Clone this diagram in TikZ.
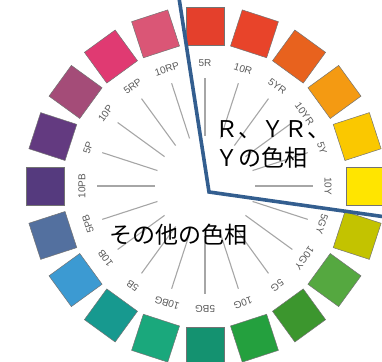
\documentclass[tikz,border=0pt]{standalone}
\usepackage{fontspec}
\setsansfont{Liberation Sans}
\newfontfamily\jpfont{Noto Sans CJK JP}
\definecolor{c5R}{HTML}{E4402C}
\definecolor{c10R}{HTML}{E8442A}
\definecolor{c5YR}{HTML}{E8621E}
\definecolor{c10YR}{HTML}{F49A12}
\definecolor{c5Y}{HTML}{FAC800}
\definecolor{c10Y}{HTML}{FFE500}
\definecolor{c5GY}{HTML}{C3C300}
\definecolor{c10GY}{HTML}{55A840}
\definecolor{c5G}{HTML}{3C962E}
\definecolor{c10G}{HTML}{24A03E}
\definecolor{c5BG}{HTML}{149270}
\definecolor{c10BG}{HTML}{1AA87C}
\definecolor{c5B}{HTML}{17998F}
\definecolor{c10B}{HTML}{3C9AD2}
\definecolor{c5PB}{HTML}{53709F}
\definecolor{c10PB}{HTML}{553A7E}
\definecolor{c5P}{HTML}{633A80}
\definecolor{c10P}{HTML}{A44C78}
\definecolor{c5RP}{HTML}{E03A72}
\definecolor{c10RP}{HTML}{DA5676}
\definecolor{wedgeblue}{HTML}{335E8F}
\begin{document}
\begin{tikzpicture}[x=1pt,y=1pt]
\tikzstyle{every node}+=[inner sep=0pt]
\tikzstyle{huebox}=[draw=black!55, line width=0.5pt, minimum size=38pt]
\tikzstyle{huelabel}=[font=\sffamily\fontsize{10}{10}\selectfont, text=black!65]
\tikzstyle{spoke}=[draw=black!35, line width=1.1pt]
\tikzstyle{jptext}=[font=\jpfont\fontsize{23}{29}\selectfont, anchor=base west]
\useasboundingbox (0,0) rectangle (382,-361);
\begin{scope}[shift={(205,-186)}]
\node [huebox, fill=c5R, rotate=0] (h5R) at (90:160) {}; \draw [spoke] (90:50) -- (90:108); \node [huelabel, rotate=0] (l5R) at (90:123) {5R};
\node [huebox, fill=c10R, rotate=-18] (h10R) at (72:160) {}; \draw [spoke] (72:50) -- (72:108); \node [huelabel, rotate=-18] (l10R) at (72:123) {10R};
\node [huebox, fill=c5YR, rotate=-36] (h5YR) at (54:160) {}; \draw [spoke] (54:50) -- (54:108); \node [huelabel, rotate=-36] (l5YR) at (54:123) {5YR};
\node [huebox, fill=c10YR, rotate=-54] (h10YR) at (36:160) {}; \draw [spoke] (36:50) -- (36:108); \node [huelabel, rotate=-54] (l10YR) at (36:123) {10YR};
\node [huebox, fill=c5Y, rotate=-72] (h5Y) at (18:160) {}; \draw [spoke] (18:50) -- (18:108); \node [huelabel, rotate=-72] (l5Y) at (18:123) {5Y};
\node [huebox, fill=c10Y, rotate=-90] (h10Y) at (0:160) {}; \draw [spoke] (0:50) -- (0:108); \node [huelabel, rotate=-90] (l10Y) at (0:123) {10Y};
\node [huebox, fill=c5GY, rotate=-108] (h5GY) at (-18:160) {}; \draw [spoke] (-18:50) -- (-18:108); \node [huelabel, rotate=-108] (l5GY) at (-18:123) {5GY};
\node [huebox, fill=c10GY, rotate=-126] (h10GY) at (-36:160) {}; \draw [spoke] (-36:50) -- (-36:108); \node [huelabel, rotate=-126] (l10GY) at (-36:123) {10GY};
\node [huebox, fill=c5G, rotate=-144] (h5G) at (-54:160) {}; \draw [spoke] (-54:50) -- (-54:108); \node [huelabel, rotate=-144] (l5G) at (-54:123) {5G};
\node [huebox, fill=c10G, rotate=-162] (h10G) at (-72:160) {}; \draw [spoke] (-72:50) -- (-72:108); \node [huelabel, rotate=-162] (l10G) at (-72:123) {10G};
\node [huebox, fill=c5BG, rotate=180] (h5BG) at (-90:160) {}; \draw [spoke] (-90:50) -- (-90:108); \node [huelabel, rotate=180] (l5BG) at (-90:123) {5BG};
\node [huebox, fill=c10BG, rotate=162] (h10BG) at (-108:160) {}; \draw [spoke] (-108:50) -- (-108:108); \node [huelabel, rotate=162] (l10BG) at (-108:123) {10BG};
\node [huebox, fill=c5B, rotate=144] (h5B) at (-126:160) {}; \draw [spoke] (-126:50) -- (-126:108); \node [huelabel, rotate=144] (l5B) at (-126:123) {5B};
\node [huebox, fill=c10B, rotate=126] (h10B) at (-144:160) {}; \draw [spoke] (-144:50) -- (-144:108); \node [huelabel, rotate=126] (l10B) at (-144:123) {10B};
\node [huebox, fill=c5PB, rotate=108] (h5PB) at (-162:160) {}; \draw [spoke] (-162:50) -- (-162:108); \node [huelabel, rotate=108] (l5PB) at (-162:123) {5PB};
\node [huebox, fill=c10PB, rotate=90] (h10PB) at (180:160) {}; \draw [spoke] (180:50) -- (180:108); \node [huelabel, rotate=90] (l10PB) at (180:123) {10PB};
\node [huebox, fill=c5P, rotate=72] (h5P) at (162:160) {}; \draw [spoke] (162:50) -- (162:108); \node [huelabel, rotate=72] (l5P) at (162:123) {5P};
\node [huebox, fill=c10P, rotate=54] (h10P) at (144:160) {}; \draw [spoke] (144:50) -- (144:108); \node [huelabel, rotate=54] (l10P) at (144:123) {10P};
\node [huebox, fill=c5RP, rotate=36] (h5RP) at (126:160) {}; \draw [spoke] (126:50) -- (126:108); \node [huelabel, rotate=36] (l5RP) at (126:123) {5RP};
\node [huebox, fill=c10RP, rotate=18] (h10RP) at (108:160) {}; \draw [spoke] (108:50) -- (108:108); \node [huelabel, rotate=18] (l10RP) at (108:123) {10RP};
\end{scope}
% wedge of the R, YR, Y hues
\coordinate (wtop) at (179,2);
\coordinate (wtip) at (209,-192);
\coordinate (wright) at (386,-217);
\draw [wedgeblue, line width=3.6pt, line join=miter] (wtop) -- (wtip) -- (wright);
\node [jptext] (rhue) at (215,-137) {Ｒ、ＹＲ、};
\node [jptext] (yhue) at (215,-166) {Ｙの色相};
\node [jptext] (otherhue) at (109,-243) {その他の色相};
\node [jptext] (cuttext) at (6,-382) {ついて};
\end{tikzpicture}
\end{document}
